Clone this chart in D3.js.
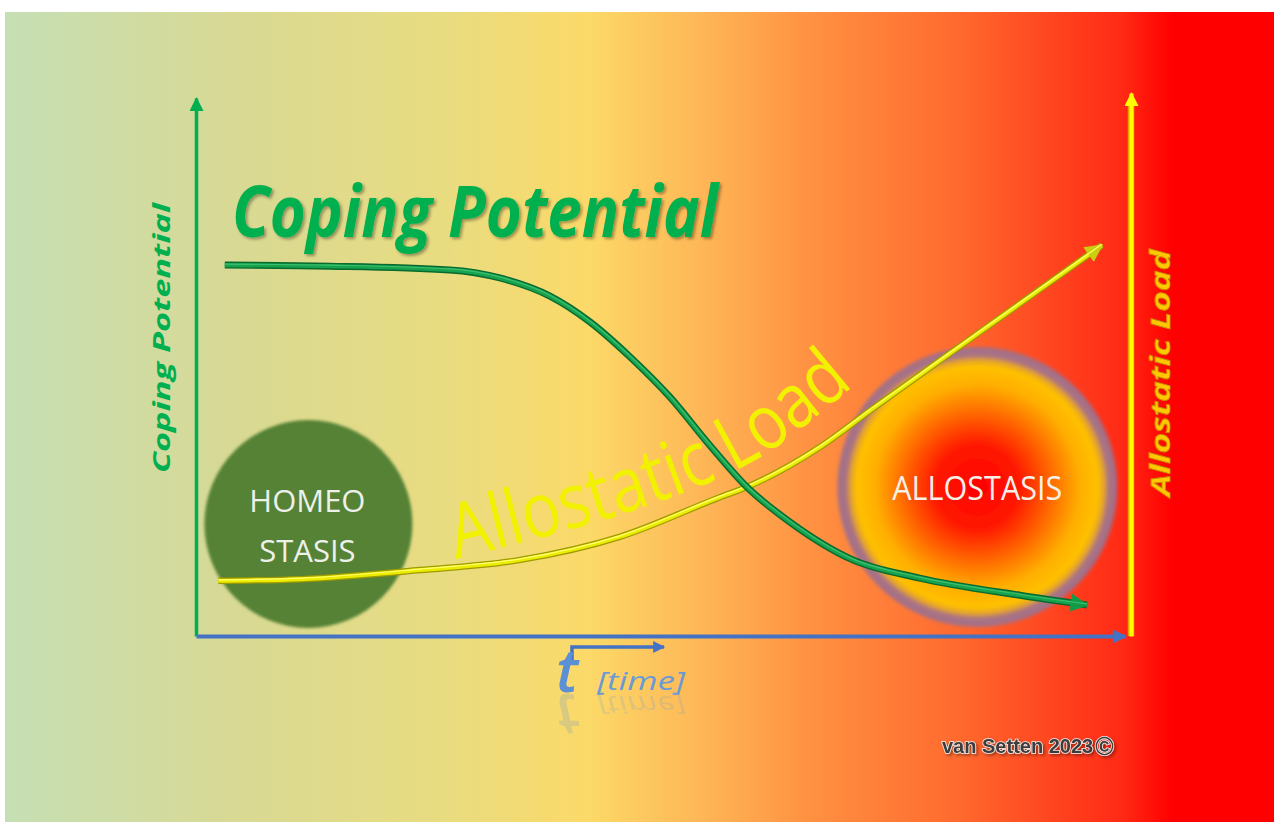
<!DOCTYPE html>
<html lang="en">
<head>
<meta charset="UTF-8">
<title>Coping Potential vs Allostatic Load</title>
<script src="https://d3js.org/d3.v7.min.js"></script>
<style>
  body { margin: 0; background: #fff; }
  svg { display: block; }
</style>
</head>
<body>
<svg id="chart" width="1274" height="825"></svg>
<script>
// curves, time 0-100 against level 0-100
const copingTime  = [3.1, 14.4, 27.3, 32.7, 38.1, 42.4, 46.7, 51.0, 55.3, 59.3, 63.9, 70.7, 77.9, 88.7, 95.9];
const copingLevel = [69.2, 69.0, 68.3, 66.8, 63.4, 58.6, 52.1, 44.6, 35.6, 27.8, 21.3, 14.2, 10.8, 7.6, 5.8];
const loadTime  = [2.4, 11.2, 24.1, 34.9, 45.6, 56.4, 59.3, 67.2, 72.5, 84.7, 97.5];
const loadLevel = [10.3, 10.6, 12.3, 14.2, 18.5, 25.9, 27.8, 35.3, 42.0, 57.1, 72.9];

// the two states
const zoneNames = [["HOMEO", "STASIS"], ["ALLOSTASIS"]];
const zoneTime  = [12.1, 84.1];
const zoneLevel = [20.9, 27.8];

const titleText = "Coping Potential";
const leftLabel = "Coping Potential";
const rightLabel = "Allostatic Load";
const curveLabel = "Allostatic Load";
const timeLabel = ["t", "[time]"];
const credit = "van Setten 2023";

const svg = d3.select("#chart");
const defs = svg.append("defs");

const x = d3.scaleLinear().domain([0, 100]).range([196, 1125]);
const y = d3.scaleLinear().domain([0, 100]).range([636, 100]);

// background
const bg = defs.append("linearGradient").attr("id", "bg")
  .attr("x1", 0).attr("x2", 1).attr("y1", 0).attr("y2", 0);
[[0, "#c5dfb4"], [0.18, "#d8d994"], [0.35, "#e9dc80"], [0.46, "#fcd968"],
 [0.55, "#feb656"], [0.63, "#ff9343"], [0.75, "#ff6a2e"], [0.88, "#ff2a15"],
 [0.92, "#ff0000"], [1, "#ff0000"]].forEach(s =>
  bg.append("stop").attr("offset", s[0]).attr("stop-color", s[1]));

svg.append("rect").attr("x", 5).attr("y", 12).attr("width", 1269).attr("height", 810)
  .attr("fill", "url(#bg)");

// allostasis radial gradient
const rg = defs.append("radialGradient").attr("id", "allo");
[[0, "#ff0000"], [0.3, "#ff1a00"], [0.55, "#ff7200"], [0.72, "#ffae00"],
 [0.85, "#ffc000"], [0.895, "#e0a030"], [0.925, "#ad7480"], [0.97, "#a0708a"],
 [1, "rgba(160,112,138,0)"]].forEach(s =>
  rg.append("stop").attr("offset", s[0]).attr("stop-color", s[1]));

const soft = defs.append("filter").attr("id", "soft").attr("x", "-10%").attr("y", "-10%")
  .attr("width", "120%").attr("height", "120%");
soft.append("feGaussianBlur").attr("stdDeviation", 1.5);

const shadow = defs.append("filter").attr("id", "shadow");
shadow.append("feDropShadow").attr("dx", 2).attr("dy", 2).attr("stdDeviation", 1.5)
  .attr("flood-color", "#000").attr("flood-opacity", 0.35);

// arrow markers
function marker(id, color, w, h) {
  defs.append("marker").attr("id", id)
    .attr("viewBox", "0 0 10 10").attr("refX", 9).attr("refY", 5)
    .attr("markerUnits", "userSpaceOnUse")
    .attr("markerWidth", w).attr("markerHeight", h)
    .attr("orient", "auto")
    .append("path").attr("d", "M0,0L10,5L0,10z").attr("fill", color);
}
marker("arGreen", "#00b050", 16, 14);
marker("arBlue", "#4472c4", 16, 14);
marker("arYellow", "#ffff00", 16, 14);
marker("arCurveG", "#139a48", 22, 18);
marker("arCurveY", "#c9cf10", 24, 18);
marker("arSmall", "#4472c4", 16, 12);

// zones
const zoneR = [104, 142];
svg.append("circle")
  .attr("cx", x(zoneTime[0])).attr("cy", y(zoneLevel[0])).attr("r", zoneR[0])
  .attr("fill", "#548235").attr("filter", "url(#soft)");
svg.append("circle")
  .attr("cx", x(zoneTime[1])).attr("cy", y(zoneLevel[1])).attr("r", zoneR[1])
  .attr("fill", "url(#allo)").attr("filter", "url(#soft)");

zoneNames[0].forEach((t, i) => {
  svg.append("text")
    .attr("x", x(zoneTime[0]) - 1).attr("y", y(zoneLevel[0]) - 12 + i * 50)
    .attr("text-anchor", "middle")
    .attr("font-family", "Open Sans").attr("font-size", 31)
    .attr("fill", "#eef0ea").text(t);
});
svg.append("text")
  .attr("x", x(zoneTime[1])).attr("y", y(zoneLevel[1]) + 13)
  .attr("text-anchor", "middle")
  .attr("font-family", "Open Sans").attr("font-size", 32)
  .attr("textLength", 170).attr("lengthAdjust", "spacingAndGlyphs")
  .attr("fill", "#f6f0e8").text(zoneNames[1][0]);

// axes with no ticks, just arrows
const gL = svg.append("g").attr("transform", `translate(${x.range()[0]},0)`)
  .call(d3.axisLeft(y.copy().range([636, 98])).tickValues([]).tickSizeOuter(0));
gL.select(".domain").attr("stroke", "#00b050").attr("stroke-width", 3.5)
  .attr("marker-end", "url(#arGreen)");

const gB = svg.append("g").attr("transform", `translate(0,${y.range()[0]})`)
  .call(d3.axisBottom(x).tickValues([]).tickSizeOuter(0));
gB.select(".domain").attr("stroke", "#4472c4").attr("stroke-width", 4)
  .attr("marker-end", "url(#arBlue)");

const yR = y.copy().range([636, 93]);
const gR = svg.append("g").attr("transform", `translate(${x.range()[1] + 6},0)`);
gR.append("path").attr("d", `M0,${yR.range()[0]}V${yR.range()[1] + 12}`)
  .attr("stroke", "#e8a000").attr("stroke-width", 6.5);
gR.call(d3.axisRight(yR).tickValues([]).tickSizeOuter(0));
gR.select(".domain").attr("stroke", "#ffff00").attr("stroke-width", 4)
  .attr("marker-end", "url(#arYellow)");

// curves
const line = d3.line().x(d => x(d[0])).y(d => y(d[1])).curve(d3.curveMonotoneX);
const loadPts = d3.zip(loadTime, loadLevel);
const copingPts = d3.zip(copingTime, copingLevel);

svg.append("path").datum(loadPts).attr("d", line)
  .attr("fill", "none").attr("stroke", "#9e9a00").attr("stroke-width", 6.5);
svg.append("path").datum(loadPts).attr("d", line)
  .attr("fill", "none").attr("stroke", "#ecec00").attr("stroke-width", 4)
  .attr("marker-end", "url(#arCurveY)");
svg.append("path").datum(loadPts).attr("d", line)
  .attr("fill", "none").attr("stroke", "#ffff70").attr("stroke-width", 1.2)
  .attr("transform", "translate(0,-1)");

svg.append("path").datum(copingPts).attr("d", line)
  .attr("fill", "none").attr("stroke", "#086a2e").attr("stroke-width", 7);
svg.append("path").datum(copingPts).attr("d", line)
  .attr("fill", "none").attr("stroke", "#17a24e").attr("stroke-width", 4.2)
  .attr("marker-end", "url(#arCurveG)");
svg.append("path").datum(copingPts).attr("d", line)
  .attr("fill", "none").attr("stroke", "#3cc070").attr("stroke-width", 1.2)
  .attr("transform", "translate(0,-1)");

// curved label on the load curve
const labelGuide = [[28.0, 14.4], [45.6, 22.6], [60.0, 32.6], [71.0, 47.0]];
defs.append("path").attr("id", "loadPath")
  .attr("d", d3.line().x(d => x(d[0])).y(d => y(d[1])).curve(d3.curveCatmullRom)(labelGuide));
svg.append("text")
  .attr("font-family", "Open Sans").attr("font-size", 76)
  .attr("fill", "#f2f200")
  .attr("textLength", 440).attr("lengthAdjust", "spacingAndGlyphs")
  .append("textPath").attr("href", "#loadPath")
  .text(curveLabel);

// title
svg.append("text")
  .attr("x", 232).attr("y", 237)
  .attr("font-family", "Open Sans").attr("font-weight", 700).attr("font-style", "italic")
  .attr("font-size", 72).attr("fill", "#00b050")
  .attr("textLength", 486).attr("lengthAdjust", "spacingAndGlyphs")
  .attr("filter", "url(#shadow)")
  .text(titleText);

// side labels
svg.append("text")
  .attr("transform", "translate(170,338) rotate(-90)")
  .attr("text-anchor", "middle")
  .attr("font-family", "Open Sans").attr("font-weight", 700).attr("font-style", "italic")
  .attr("font-size", 23).attr("fill", "#00b050")
  .attr("textLength", 270).attr("lengthAdjust", "spacingAndGlyphs")
  .text(leftLabel);

svg.append("text")
  .attr("transform", "translate(1170,373) rotate(-90)")
  .attr("text-anchor", "middle")
  .attr("font-family", "Open Sans").attr("font-weight", 700).attr("font-style", "italic")
  .attr("font-size", 26).attr("fill", "#ffc800")
  .attr("stroke", "#c88a00").attr("stroke-width", 0.7)
  .attr("textLength", 247).attr("lengthAdjust", "spacingAndGlyphs")
  .text(rightLabel);

// time marker, with its faded mirror image
const tg = svg.append("g");
tg.append("path").attr("d", "M572,660V647H664")
  .attr("fill", "none").attr("stroke", "#4472c4").attr("stroke-width", 3.5)
  .attr("marker-end", "url(#arSmall)");
const tText = tg.append("g").attr("id", "timeText");
tText.append("text").attr("x", 556).attr("y", 692)
  .attr("font-family", "Open Sans").attr("font-style", "italic").attr("font-weight", 600)
  .attr("font-size", 60).attr("fill", "#5b8fd6").text(timeLabel[0]);
tText.append("text").attr("x", 597).attr("y", 690)
  .attr("font-family", "Open Sans").attr("font-style", "italic")
  .attr("font-size", 25).attr("fill", "#6a9ad6")
  .attr("textLength", 88).attr("lengthAdjust", "spacingAndGlyphs")
  .text(timeLabel[1]);
tg.append("use").attr("href", "#timeText")
  .attr("transform", "translate(0,1386) scale(1,-1)")
  .attr("opacity", 0.2);

// credit, one text element with a larger copyright sign
const cr = svg.append("text")
  .attr("x", 942).attr("y", 753)
  .attr("font-family", "Liberation Sans").attr("font-weight", 700)
  .attr("font-size", 20).attr("fill", "#3c3c3c")
  .attr("stroke", "#f4f0f0").attr("stroke-width", 1.6).attr("paint-order", "stroke")
  .attr("filter", "url(#shadow)");
cr.append("tspan").text(credit);
cr.append("tspan").attr("dx", 2).attr("font-size", 25).attr("dy", 2).text("\u00a9");
</script>
</body>
</html>
